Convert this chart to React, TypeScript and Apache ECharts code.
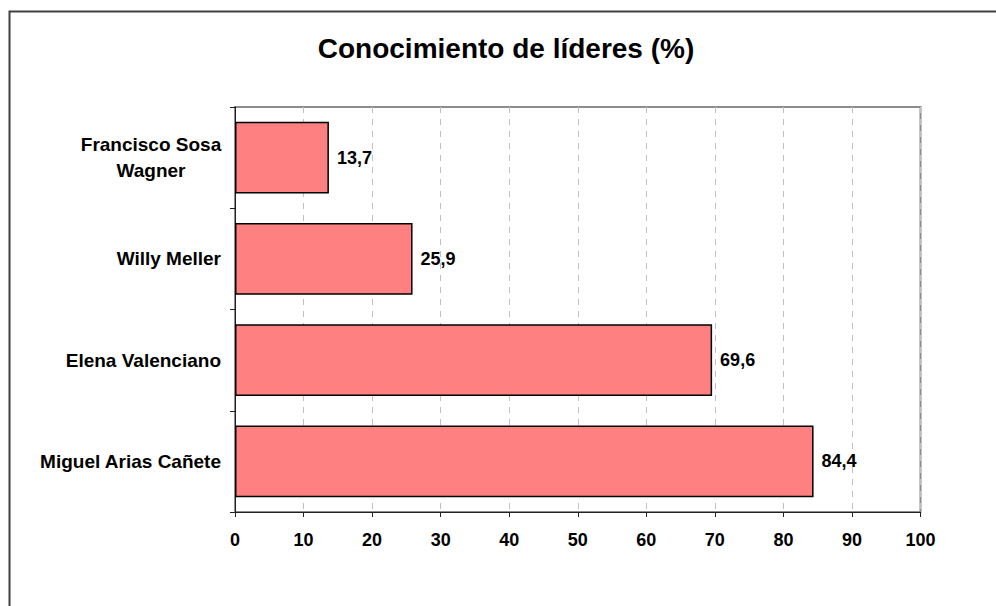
import React, { useEffect, useRef } from "react";
import * as echarts from "echarts";

const titleText = "Conocimiento de líderes (%)";
const categories = ["Miguel Arias Cañete", "Elena Valenciano", "Willy Meller", "Francisco Sosa\nWagner"];
const values = [84.4, 69.6, 25.9, 13.7];
const xMin = 0;
const xMax = 100;
const xInterval = 10;

const FONT = "'Liberation Sans', Arial, sans-serif";

function measure(text: string): number {
  const canvas = document.createElement("canvas");
  const ctx = canvas.getContext("2d");
  if (!ctx) return 140;
  ctx.font = "bold 19px 'Liberation Sans', Arial, sans-serif";
  return Math.round(ctx.measureText(text).width);
}

export default function App() {
  const ref = useRef<HTMLDivElement>(null);
  useEffect(() => {
    if (!ref.current) return;
    const chart = echarts.init(ref.current, undefined, { renderer: "svg" });
    // Multi-line labels: lines centred on each other, block right-aligned to the axis
    const catData = categories.map((c) => {
      if (c.indexOf("\n") < 0) return c;
      const widest = Math.max(...c.split("\n").map(measure));
      return { value: c, textStyle: { align: "center", padding: [0, widest, 0, 0] } };
    });
    chart.setOption({
      animation: false,
      backgroundColor: "#ffffff",
      textStyle: { fontFamily: FONT },
      title: {
        text: titleText,
        left: 501,
        textAlign: "center",
        top: 29,
        textStyle: { fontFamily: FONT, fontSize: 28, fontWeight: "bold", color: "#000" },
      },
      graphic: [
        {
          type: "rect",
          shape: { x: 9.5, y: 11.5, width: 1200, height: 800 },
          style: { fill: "none", stroke: "#404040", lineWidth: 2 },
          silent: true,
          z: 100,
        },
      ],
      grid: {
        left: 235,
        right: 75.5,
        top: 107,
        bottom: 94,
        show: true,
        borderColor: "#8c8c8c",
        borderWidth: 2,
        backgroundColor: "transparent",
      },
      xAxis: {
        type: "value",
        min: xMin,
        max: xMax,
        interval: xInterval,
        axisLine: { show: true, lineStyle: { color: "#222", width: 1 } },
        axisTick: { show: true, length: 5, lineStyle: { color: "#222" } },
        axisLabel: {
          margin: 19,
          fontFamily: FONT,
          fontSize: 18,
          fontWeight: "bold",
          color: "#000",
        },
        splitLine: {
          show: true,
          lineStyle: { color: "#c0c0c0", type: [6, 6], width: 1 },
        },
      },
      yAxis: {
        type: "category",
        data: catData,
        axisLine: { show: true, lineStyle: { color: "#222", width: 1 } },
        axisTick: { show: true, length: 5, alignWithLabel: false, lineStyle: { color: "#222" } },
        axisLabel: {
          margin: 14,
          fontFamily: FONT,
          fontSize: 19,
          fontWeight: "bold",
          color: "#000",
          lineHeight: 26,
          align: "right",
        },
        splitLine: { show: false },
      },
      series: [
        {
          type: "bar",
          data: values,
          barCategoryGap: "29%",
          itemStyle: { color: "#ff8080", borderColor: "#000", borderWidth: 1.5 },
          label: {
            show: true,
            position: "right",
            distance: 8,
            fontFamily: FONT,
            fontSize: 18,
            fontWeight: "bold",
            color: "#000",
            formatter: (p: any) => String(p.value).replace(".", ","),
          },
        },
      ],
    });
    return () => chart.dispose();
  }, []);
  return (
    <div
      ref={ref}
      style={{ position: "fixed", left: 0, top: 0, width: 996, height: 606 }}
    />
  );
}
